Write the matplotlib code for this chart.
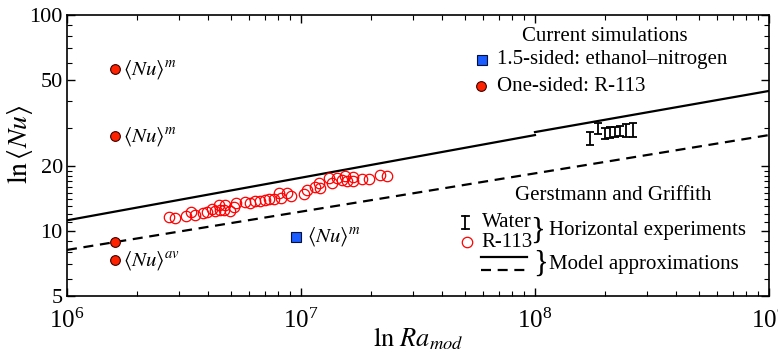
import matplotlib
matplotlib.use("Agg")
import matplotlib.pyplot as plt
import numpy as np

plt.rcParams['font.family'] = 'Liberation Serif'
plt.rcParams['mathtext.fontset'] = 'stix'
plt.rcParams['font.size'] = 15

# model approximations (endpoints of the straight lines on log-log axes)
solid_ra_a = [1e6, 1e8]
solid_nu_a = [11.2, 27.8]
solid_ra_b = [1e8, 1e9]
solid_nu_b = [28.7, 44.5]
dash_ra = [1e6, 1e9]
dash_nu = [8.17, 27.8]

# current simulations, one-sided R-113
one_ra = [1.6e6, 1.6e6, 1.6e6, 1.6e6]
one_nu = [56.0, 27.5, 8.9, 7.3]
one_lab = [r'$\langle Nu\rangle^m$', r'$\langle Nu\rangle^m$', None, r'$\langle Nu\rangle^{av}$']

# current simulations, 1.5-sided ethanol-nitrogen
half_ra = [9.5e6]
half_nu = [9.4]

# Gerstmann and Griffith, R-113 (open circles)
gg_ra = [2.74e6, 2.89e6, 3.22e6, 3.39e6, 3.52e6, 3.80e6, 3.98e6, 4.15e6, 4.29e6,
         4.48e6, 4.51e6, 4.73e6, 4.69e6, 4.97e6, 5.17e6, 5.28e6, 5.76e6, 6.05e6,
         6.36e6, 6.68e6, 7.02e6, 7.32e6, 7.67e6, 8.05e6, 8.21e6, 8.69e6, 9.06e6,
         1.03e7, 1.058e7, 1.148e7, 1.197e7, 1.205e7, 1.321e7, 1.352e7, 1.42e7,
         1.493e7, 1.542e7, 1.568e7, 1.673e7, 1.663e7, 1.816e7, 1.959e7, 2.176e7,
         2.324e7]
gg_nu = [11.57, 11.45, 11.73, 12.29, 11.86, 12.08, 12.29, 12.60, 12.42,
         13.20, 12.51, 13.20, 12.51, 12.42, 12.96, 13.52, 13.66, 13.43,
         13.77, 13.81, 13.91, 14.02, 14.02, 14.95, 14.17, 14.95, 14.52,
         14.84, 15.49, 16.03, 16.73, 15.76, 17.54, 16.73, 17.54,
         17.22, 17.98, 17.09, 17.73, 17.09, 17.36, 17.41, 18.17,
         18.03]

# Gerstmann and Griffith, water (error bars)
w_ra = [1.72e8, 1.86e8, 1.99e8, 2.09e8, 2.20e8, 2.31e8, 2.45e8, 2.62e8]
w_lo = [25.0, 28.1, 26.7, 27.0, 27.2, 27.5, 27.3, 27.3]
w_hi = [28.8, 31.7, 30.0, 30.3, 30.3, 30.6, 31.3, 31.6]

fig = plt.figure(figsize=(7.78, 3.57), dpi=100)
ax = fig.add_axes([0.0861, 0.1709, 0.9023, 0.7871])

ax.plot(solid_ra_a, solid_nu_a, color='black', lw=1.6)
ax.plot(solid_ra_b, solid_nu_b, color='black', lw=1.6)
ax.plot(dash_ra, dash_nu, color='black', lw=1.6, ls=(0, (4.5, 3)))

ax.plot(gg_ra, gg_nu, 'o', mfc='none', mec='red', ms=7.5, mew=0.9, ls='none')

w_ra = np.array(w_ra)
w_lo = np.array(w_lo)
w_hi = np.array(w_hi)
w_mid = np.sqrt(w_lo * w_hi)
ax.errorbar(w_ra, w_mid, yerr=[w_mid - w_lo, w_hi - w_mid], fmt='none',
            ecolor='black', elinewidth=1.3, capsize=3, capthick=1.3)

ax.plot(one_ra, one_nu, 'o', mfc='#ff2200', mec='#3a0000', ms=7, mew=0.8, ls='none', zorder=5)
for r, n, lab in zip(one_ra, one_nu, one_lab):
    if lab:
        ax.annotate(lab, (r, n), xytext=(6, 0), textcoords='offset points',
                    va='center', ha='left', fontsize=15)

ax.plot(half_ra, half_nu, 's', mfc='#1a5cff', mec='#00103a', ms=6.5, mew=0.8, ls='none', zorder=5)
ax.annotate(r'$\langle Nu\rangle^m$', (half_ra[0], half_nu[0]), xytext=(8, 0),
            textcoords='offset points', va='center', ha='left', fontsize=15)

ax.set_xscale('log')
ax.set_yscale('log')
ax.set_xlim(1e6, 1e9)
ax.set_ylim(5, 100)
ax.set_yticks([5, 10, 20, 50, 100], labels=['5', '10', '20', '50', '100'])
ax.set_yticks([6, 7, 8, 9, 11, 12, 13, 14, 15, 16, 17, 18, 19,
               30, 40, 60, 70, 80, 90], minor=True)
ax.yaxis.set_minor_formatter(matplotlib.ticker.NullFormatter())
ax.tick_params(which='both', direction='in', top=True, right=True)
ax.tick_params(axis='y', labelsize=16, pad=3)
ax.tick_params(axis='x', labelsize=18, pad=9)
ax.tick_params(which='major', length=6, width=1)
ax.tick_params(which='minor', length=3.5, width=0.8)
for s in ax.spines.values():
    s.set_linewidth(1.2)

ax.set_xlabel(r'$\ln\,Ra_{mod}$', fontsize=19)
ax.set_ylabel(r'$\ln\langle Nu\rangle$', fontsize=20)
ax.xaxis.set_label_coords(0.5, -0.105)
ax.yaxis.set_label_coords(-0.046, 0.54)

# legend drawn by hand
T = ax.transAxes
ax.text(0.766, 0.922, 'Current simulations', transform=T, ha='center', va='center')
ax.plot([0.591], [0.840], 's', mfc='#1a5cff', mec='#00103a', ms=6.5, mew=0.8, transform=T)
ax.text(0.6125, 0.840, '1.5-sided: ethanol\u2013nitrogen', transform=T, ha='left', va='center')
ax.plot([0.590], [0.747], 'o', mfc='#ff2200', mec='#3a0000', ms=7, mew=0.8, transform=T)
ax.text(0.6125, 0.747, 'One-sided: R-113', transform=T, ha='left', va='center')

ax.text(0.778, 0.359, 'Gerstmann and Griffith', transform=T, ha='center', va='center')
ax.plot([0.567, 0.567], [0.237, 0.283], color='black', lw=1.3, transform=T)
ax.plot([0.562, 0.572], [0.283, 0.283], color='black', lw=1.3, transform=T)
ax.plot([0.562, 0.572], [0.237, 0.237], color='black', lw=1.3, transform=T)
ax.text(0.591, 0.263, 'Water', transform=T, ha='left', va='center')
ax.plot([0.570], [0.192], 'o', mfc='none', mec='red', ms=7.5, mew=0.9, transform=T)
ax.text(0.591, 0.192, 'R-113', transform=T, ha='left', va='center')
ax.text(0.671, 0.232, '}', transform=T, ha='center', va='center', fontsize=22)
ax.text(0.687, 0.232, 'Horizontal experiments', transform=T, ha='left', va='center')
ax.plot([0.590, 0.655], [0.139, 0.139], color='black', lw=1.6, transform=T)
ax.plot([0.590, 0.655], [0.0925, 0.0925], color='black', lw=1.6, ls=(0, (4.5, 3)), transform=T)
ax.text(0.674, 0.112, '}', transform=T, ha='center', va='center', fontsize=22)
ax.text(0.687, 0.112, 'Model approximations', transform=T, ha='left', va='center')

fig.savefig('out.png', dpi=100)
